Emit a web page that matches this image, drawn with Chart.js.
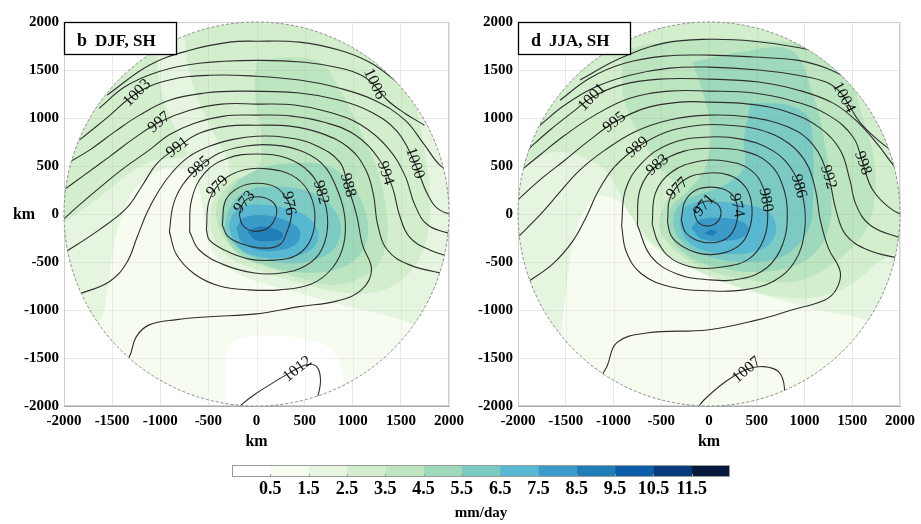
<!DOCTYPE html>
<html>
<head>
<meta charset="utf-8">
<script src="https://cdn.jsdelivr.net/npm/chart.js@4.4.0/dist/chart.umd.min.js"></script>
<style>
  body { margin: 0; background: #fff; }
  #wrap { position: relative; width: 921px; height: 524px; overflow: hidden; }
  canvas { position: absolute; }
</style>
</head>
<body>
<div id="wrap">
  <canvas id="djf" width="470" height="452" style="left:0;top:0"></canvas>
  <canvas id="jja" width="463" height="452" style="left:458px;top:0"></canvas>
  <canvas id="cbar" width="560" height="69" style="left:200px;top:455px"></canvas>
</div>
<script>
Chart.defaults.font.family = '"Liberation Serif", "Times New Roman", serif';
Chart.defaults.color = '#000';

// precipitation shading (mm/day)
const rainTicks = ['0.5', '1.5', '2.5', '3.5', '4.5', '5.5', '6.5', '7.5', '8.5', '9.5', '10.5', '11.5'];
const rainColors = ['#ffffff', '#f7fcf0', '#e6f5e0', '#d3eecd', '#bde5bf', '#9ed9bb', '#7bcbc4',
                    '#58b7d1', '#3a9ac8', '#1f7db8', '#0b5ea7', '#083b7c', '#06193b'];

// ---------------- DJF, SH ----------------
// rain bands, [x km, y km]
const djfRainBase = [[-2200, -2200], [2200, -2200], [2200, 2200], [-2200, 2200]];
const djfRain2 = [[-2260, -1310], [-1895, -1260], [-1635, -1125], [-1550, -810], [-1500, -425], [-1405, -40],
  [-1270, 250], [-1090, 415], [-885, 480], [-695, 425], [-595, 250], [-550, 20], [-520, -220], [-405, -460],
  [-125, -655], [395, -810], [915, -955], [1435, -1080], [1800, -1205], [2215, -1310], [2215, 2225], [-2260, 2225]];
const djfRain0 = [[-300, -2060], [-320, -1725], [-300, -1415], [-230, -1310], [-20, -1270], [290, -1270],
  [605, -1330], [810, -1435], [885, -1620], [915, -1830], [965, -2060]];
const djfRain3a = [[-2260, 2225], [-955, 2225], [-1010, 1915], [-1030, 1600], [-990, 1290], [-905, 1030],
  [-800, 790], [-720, 615], [-855, 580], [-1060, 560], [-1270, 460], [-1475, 300], [-1735, 95], [-2050, -115],
  [-2260, -220]];
const djfRain3b = [[-750, 2225], [-750, 1915], [-720, 1600], [-645, 1290], [-540, 1030], [-435, 820],
  [-280, 480], [-405, 250], [-480, 20], [-460, -220], [-300, -445], [50, -595], [445, -720], [915, -820],
  [1260, -810], [1510, -685], [1695, -460], [1790, -145], [1800, 250], [1745, 665], [1675, 1080], [1590, 1600],
  [1510, 2225]];
const djfRain4 = [[10, 1600], [345, 1635], [675, 1570], [840, 1340], [990, 1060], [1125, 770], [1250, 480],
  [1330, 145], [1360, -220], [1280, -500], [1090, -665], [780, -740], [445, -665], [135, -560], [-125, -460],
  [-300, -300], [-415, -60], [-385, 165], [-220, 355], [10, 460], [50, 770], [0, 1135], [-20, 1395]];
const djfRain5 = [[-375, -85], [-320, 165], [-175, 355], [50, 480], [395, 530], [705, 510], [915, 395],
  [1070, 185], [1155, -85], [1125, -345], [965, -520], [705, -605], [395, -605], [85, -530], [-175, -425],
  [-300, -270]];
const djfRain6 = [[-335, -145], [-280, 60], [-155, 210], [50, 280], [395, 270], [655, 185], [830, 10],
  [875, -200], [780, -385], [510, -500], [200, -500], [-95, -425], [-250, -300]];
const djfRain7 = [[-290, -125], [-230, 20], [-75, 95], [240, 75], [500, -10], [635, -165], [605, -335],
  [425, -435], [135, -460], [-125, -395], [-240, -270]];
const djfRain8 = [[-210, -145], [-135, -40], [50, -10], [290, -60], [445, -165], [425, -300], [260, -375],
  [10, -375], [-155, -290]];
const djfRain9 = [[-95, -185], [10, -135], [155, -145], [270, -200], [260, -260], [135, -280], [-10, -270]];
const djfRain = [[1, djfRainBase], [2, djfRain2], [0, djfRain0], [3, djfRain3a], [3, djfRain3b],
  [4, djfRain4], [5, djfRain5], [6, djfRain6], [7, djfRain7], [8, djfRain8], [9, djfRain9]];

// sea level pressure contours (hPa)
const djfP973 = [[-180, 0], [-125, 135], [10, 180], [155, 135], [210, 40], [175, -85], [85, -165], [-50, -175], [-145, -115]];
const djfP976 = [[-355, -115], [-320, 145], [-175, 280], [10, 320], [200, 280], [310, 165], [365, 20], [320, -175],
  [240, -320], [50, -355], [-155, -310], [-300, -230]];
const djfP979 = [[-520, -165], [-490, 145], [-345, 355], [-125, 460], [115, 470], [365, 405], [530, 250], [605, 20],
  [570, -250], [425, -425], [185, -480], [-75, -470], [-335, -375], [-490, -270]];
const djfP982 = [[-695, -185], [-675, 145], [-540, 425], [-300, 580], [10, 625], [320, 580], [550, 435], [675, 220],
  [740, -85], [675, -375], [510, -540], [260, -615], [-20, -615], [-335, -530], [-595, -375]];
const djfP985 = [[-905, -185], [-865, 95], [-770, 300], [-595, 490], [-385, 635], [-125, 705], [135, 720], [445, 665],
  [675, 530], [820, 300], [915, -10], [905, -320], [790, -560], [570, -730], [240, -790], [-75, -790], [-385, -750],
  [-645, -625], [-830, -425]];
// 988 enters from the west rim, wraps over the low and leaves again through the south-west rim
const djfP988 = [[-1860, -840], [-1530, -705], [-1350, -510], [-1240, -240], [-1135, 20], [-1010, 250], [-875, 435],
  [-705, 595], [-490, 705], [-230, 780], [0, 810], [290, 800], [605, 720], [865, 540], [945, 300], [1040, -10],
  [1100, -320], [1195, -580], [1090, -790], [840, -905], [445, -965], [0, -1040], [-490, -1070], [-830, -1100],
  [-1115, -1155], [-1250, -1280], [-1320, -1485], [-1425, -1620]];
const djfP991 = [[-2030, -425], [-1635, -165], [-1350, 60], [-1185, 300], [-1030, 530], [-820, 695], [-595, 840],
  [-300, 915], [0, 925], [345, 915], [675, 840], [965, 685], [1135, 460], [1215, 200], [1260, -115], [1360, -375],
  [1590, -530], [2005, -635]];
const djfP994 = [[-2070, -115], [-1840, 95], [-1635, 270], [-1375, 480], [-1115, 665], [-915, 820], [-645, 945],
  [-335, 1020], [0, 1030], [365, 1020], [705, 955], [1030, 820], [1280, 560], [1415, 270], [1485, -10],
  [1590, -240], [1800, -375], [2060, -460]];
const djfP997 = [[-2030, 230], [-1790, 405], [-1530, 595], [-1270, 790], [-1010, 955], [-695, 1080], [-365, 1145],
  [0, 1145], [395, 1135], [760, 1060], [1090, 925], [1360, 695], [1540, 405], [1645, 95], [1780, -115], [2060, -220]];
const djfP1000 = [[-2000, 510], [-1735, 665], [-1475, 855], [-1215, 1030], [-905, 1185], [-540, 1260], [-175, 1280],
  [445, 1260], [865, 1185], [1195, 1060], [1465, 855], [1645, 530], [1780, 200], [1905, 40], [2110, -20]];
const djfP1003 = [[-1840, 770], [-1580, 980], [-1240, 1260], [-905, 1395], [-490, 1445], [0, 1435], [445, 1395],
  [865, 1310], [1225, 1185], [1540, 980], [1745, 720], [1905, 510], [2110, 375]];
const djfP1006 = [[-1635, 1100], [-1360, 1330], [-1010, 1485], [-595, 1570], [0, 1600], [500, 1580], [865, 1520],
  [1090, 1445], [1225, 1340], [1360, 1185], [1540, 1050], [1745, 925]];
const djfP1009 = [[-1550, 1240], [-1115, 1550], [-695, 1705], [-280, 1790], [0, 1800], [445, 1790], [865, 1705],
  [1175, 1580], [1435, 1395], [1610, 1240], [1800, 1080]];
const djfP1012 = [[-230, -2060], [-155, -1985], [-20, -1880], [135, -1780], [345, -1655], [520, -1570], [625, -1590],
  [665, -1725], [635, -1905], [570, -2060]];
const djfLoops = [djfP973, djfP976, djfP979, djfP982, djfP985];
const djfArcs = [djfP988, djfP991, djfP994, djfP997, djfP1000, djfP1003, djfP1006, djfP1009, djfP1012];
// [hPa, x km, y km, angle deg]
const djfLabels = [[1003, -1240, 1260, -45], [997, -1010, 955, -40], [991, -820, 695, -38], [985, -595, 490, -42],
  [979, -405, 285, -45], [973, -125, 125, -50], [976, 335, 110, 80], [982, 670, 225, 75], [988, 950, 300, 75],
  [994, 1340, 425, 72], [1000, 1645, 530, 72], [1006, 1225, 1355, 65], [1012, 425, -1615, -38]];

// ---------------- JJA, SH ----------------
const jjaRainBase = [[-2200, -2200], [2200, -2200], [2200, 2200], [-2200, 2200]];
const jjaRain1 = [[-1165, 200], [-955, 145], [-810, -10], [-705, -220], [-500, -395], [-185, -560], [230, -740],
  [675, -875], [1145, -1000], [1560, -1080], [1925, -1205], [2130, -1310], [2130, -2140], [-1610, -2140],
  [-1560, -1415], [-1510, -895], [-1455, -480], [-1375, -115], [-1270, 95]];
const jjaRain3 = [[-2185, 2225], [2185, 2225], [2185, -270], [2030, -375], [1770, -500], [1560, -685], [1250, -840],
  [830, -875], [415, -790], [50, -665], [-310, -500], [-570, -320], [-730, -145], [-855, 40], [-955, 250],
  [-1090, 460], [-1300, 580], [-1560, 645], [-1820, 580], [-2030, 460], [-2185, 405]];
const jjaRain4 = [[-905, 1705], [-520, 1790], [0, 1830], [520, 1810], [1145, 1760], [1500, 1640], [1560, 1185],
  [1685, 770], [1745, 405], [1715, 40], [1610, -220], [1350, -480], [990, -685], [570, -705],
  [155, -635], [-185, -500], [-415, -320], [-520, -115], [-470, 95], [-345, 280], [-520, 480], [-655, 720],
  [-810, 980], [-905, 1290]];
const jjaRain5 = [[-175, 1580], [310, 1685], [865, 1705], [1090, 1240], [1215, 720], [1280, 200], [1250, -165],
  [1090, -425], [830, -560], [470, -605], [105, -560], [-185, -460], [-365, -300], [-435, -115], [-395, 75],
  [-230, 230], [-50, 460], [20, 820], [-40, 1185]];
const jjaRain6 = [[435, 1155], [830, 1135], [1040, 1000], [1090, 665], [1090, 145], [1060, -115], [935, -320],
  [730, -460], [415, -500], [50, -460], [-210, -355], [-355, -185], [-365, -10], [-280, 125], [-105, 200],
  [155, 300], [365, 480], [365, 770]];
const jjaRain7 = [[-310, -85], [-260, 60], [-105, 125], [155, 125], [415, 95], [625, 20], [705, -145], [645, -300],
  [470, -395], [155, -415], [-105, -365], [-250, -250]];
const jjaRain8 = [[-185, -145], [-105, -60], [105, -40], [335, -75], [415, -145], [365, -240], [155, -280], [-75, -260]];
const jjaRain9 = [[-50, -200], [20, -165], [95, -185], [30, -230]];
const jjaRain = [[2, jjaRainBase], [1, jjaRain1], [3, jjaRain3], [4, jjaRain4], [5, jjaRain5], [6, jjaRain6],
  [7, jjaRain7], [8, jjaRain8], [9, jjaRain9]];

const jjaP971 = [[-155, 0], [-115, 95], [-10, 135], [85, 105], [125, 20], [95, -75], [0, -125], [-105, -95]];
const jjaP974 = [[-290, -60], [-250, 135], [-135, 250], [20, 280], [175, 250], [270, 165], [300, 20], [270, -145],
  [175, -260], [20, -300], [-135, -270], [-250, -185]];
const jjaP977 = [[-435, -85], [-405, 175], [-260, 355], [-30, 425], [210, 405], [375, 290], [445, 115], [435, -115],
  [345, -300], [155, -405], [-75, -415], [-280, -335], [-395, -230]];
const jjaP980 = [[-595, -105], [-560, 220], [-395, 435], [-105, 550], [185, 550], [435, 460], [570, 270], [615, 20],
  [570, -270], [415, -470], [155, -550], [-135, -560], [-385, -470], [-530, -300]];
const jjaP983 = [[-750, -115], [-720, 260], [-540, 510], [-260, 655], [50, 685], [365, 655], [625, 530], [770, 300],
  [820, 10], [770, -320], [605, -560], [335, -675], [0, -685], [-335, -625], [-605, -445]];
const jjaP986 = [[-915, -125], [-875, 250], [-705, 530], [-415, 730], [-50, 800], [335, 780], [675, 655], [885, 435],
  [990, 145], [1000, -185], [895, -500], [685, -695], [365, -790], [0, -800], [-395, -760], [-705, -625], [-865, -395]];
// 989 wraps around the low between the west and south-west rim
const jjaP989 = [[-1915, -720], [-1635, -520], [-1425, -280], [-1280, -20], [-1165, 230], [-990, 490], [-750, 695],
  [-445, 855], [-105, 925], [210, 925], [540, 875], [830, 740], [1020, 530], [1115, 250], [1165, -60], [1250, -355],
  [1375, -605], [1330, -790], [1215, -895], [865, -1000], [520, -1100], [0, -1205], [-655, -1240], [-965, -1340],
  [-1070, -1590], [-1165, -1745]];
const jjaP992 = [[-2030, -270], [-1770, -10], [-1560, 230], [-1350, 460], [-1090, 665], [-780, 855], [-415, 980],
  [0, 1030], [415, 1010], [830, 905], [1090, 720], [1250, 385], [1330, 40], [1435, -220], [1665, -375],
  [1975, -460], [2130, -500]];
const jjaP995 = [[-2060, 95], [-1770, 355], [-1510, 560], [-1250, 770], [-990, 955], [-675, 1100], [-310, 1165],
  [0, 1165], [415, 1145], [830, 1060], [1165, 895], [1375, 665], [1475, 355], [1540, 95], [1685, -115],
  [1975, -240], [2130, -270]];
const jjaP998 = [[-2030, 405], [-1770, 615], [-1510, 820], [-1195, 1030], [-830, 1205], [-415, 1280], [0, 1280],
  [470, 1260], [885, 1175], [1250, 1030], [1510, 800], [1610, 530], [1715, 250], [1925, 40], [2130, -40]];
const jjaP1001 = [[-1925, 645], [-1665, 875], [-1405, 1080], [-1225, 1215], [-935, 1340], [-520, 1405], [0, 1405],
  [520, 1375], [935, 1290], [1300, 1155], [1560, 955], [1770, 720], [1975, 460], [2130, 355]];
const jjaP1004 = [[-1770, 925], [-1510, 1135], [-1195, 1320], [-830, 1445], [-415, 1520], [0, 1530], [520, 1500],
  [935, 1445], [1225, 1375], [1375, 1270], [1465, 1135], [1580, 955], [1770, 770], [1975, 615]];
const jjaP1007 = [[-1560, 1185], [-1250, 1415], [-885, 1570], [-470, 1645], [0, 1655], [470, 1635], [935, 1600],
  [1225, 1520], [1475, 1395], [1685, 1240], [1870, 1060]];
const jjaP1010 = [[-1350, 1395], [-935, 1620], [-470, 1780], [0, 1820], [470, 1800], [935, 1735], [1250, 1655],
  [1510, 1530], [1715, 1375]];
const jjaP1007s = [[-135, -2040], [-50, -1935], [175, -1745], [395, -1620], [570, -1590], [730, -1645], [790, -1810],
  [760, -1985], [730, -2090]];
const jjaLoops = [jjaP971, jjaP974, jjaP977, jjaP980, jjaP983, jjaP986];
const jjaArcs = [jjaP989, jjaP992, jjaP995, jjaP998, jjaP1001, jjaP1004, jjaP1007, jjaP1010, jjaP1007s];
const jjaLabels = [[1001, -1225, 1215, -45], [995, -990, 955, -38], [989, -750, 695, -40], [983, -540, 510, -40],
  [977, -330, 265, -45], [971, -50, 90, -50], [974, 290, 90, 78], [980, 595, 145, 80], [986, 940, 290, 75],
  [992, 1250, 385, 72], [998, 1610, 530, 70], [1004, 1410, 1215, 62], [1007, 395, -1625, -40]];

// -------------------------------------------
const px = (pts, close) => (close ? pts.concat([pts[0]]) : pts).map(([x, y]) => ({x, y}));

// clip the shading and isobars to the 2000 km disc, then add rim, labels and titles
const disc = {
  id: 'disc',
  beforeDatasetsDraw(chart) {
    const {ctx, chartArea: a, scales: {x, y}} = chart;
    ctx.save();
    ctx.strokeStyle = '#cfcfcf';
    ctx.lineWidth = 1;
    ctx.strokeRect(a.left + 0.5, a.top + 0.5, a.width - 1, a.height - 1);
    ctx.restore();
    const cx = x.getPixelForValue(0), cy = y.getPixelForValue(0);
    ctx.save();
    ctx.beginPath();
    ctx.ellipse(cx, cy, x.getPixelForValue(2000) - cx, cy - y.getPixelForValue(2000), 0, 0, 2 * Math.PI);
    ctx.clip();
  },
  afterDatasetsDraw(chart, args, opts) {
    const {ctx, chartArea: a, scales: {x, y}} = chart;
    // faint grid on top of the shading
    ctx.strokeStyle = 'rgba(130,130,130,0.13)';
    ctx.lineWidth = 1;
    x.ticks.forEach(t => {
      const p = Math.round(x.getPixelForValue(t.value)) + 0.5;
      ctx.beginPath(); ctx.moveTo(p, a.top); ctx.lineTo(p, a.bottom); ctx.stroke();
    });
    y.ticks.forEach(t => {
      const p = Math.round(y.getPixelForValue(t.value)) + 0.5;
      ctx.beginPath(); ctx.moveTo(a.left, p); ctx.lineTo(a.right, p); ctx.stroke();
    });
    ctx.restore();

    const cx = x.getPixelForValue(0), cy = y.getPixelForValue(0);
    ctx.save();
    ctx.setLineDash([3, 2]);
    ctx.strokeStyle = '#8a8a8a';
    ctx.lineWidth = 1;
    ctx.beginPath();
    ctx.ellipse(cx, cy, x.getPixelForValue(2000) - cx, cy - y.getPixelForValue(2000), 0, 0, 2 * Math.PI);
    ctx.stroke();
    ctx.restore();

    ctx.save();
    ctx.fillStyle = '#111';
    ctx.font = '16px "Liberation Serif", "Times New Roman", serif';
    ctx.textAlign = 'center';
    ctx.textBaseline = 'middle';
    opts.labels.forEach(([v, lx, ly, rot]) => {
      ctx.save();
      ctx.translate(x.getPixelForValue(lx), y.getPixelForValue(ly));
      ctx.rotate(rot * Math.PI / 180);
      ctx.fillText(String(v), 0, 0);
      ctx.restore();
    });
    ctx.restore();
  },
  afterDraw(chart, args, opts) {
    const {ctx, chartArea: a} = chart;
    ctx.save();
    ctx.fillStyle = '#fff';
    ctx.fillRect(a.left, a.top, 113, 33);
    ctx.strokeStyle = '#000';
    ctx.lineWidth = 1.3;
    ctx.strokeRect(a.left + 0.5, a.top + 0.5, 112, 32);
    ctx.fillStyle = '#000';
    ctx.textBaseline = 'alphabetic';
    ctx.font = 'bold 18px "Liberation Serif", "Times New Roman", serif';
    ctx.fillText(opts.letter, a.left + 13, a.top + 24);
    ctx.font = 'bold 17px "Liberation Serif", "Times New Roman", serif';
    ctx.fillText(opts.season, a.left + 31, a.top + 24);
    ctx.font = 'bold 16px "Liberation Serif", "Times New Roman", serif';
    ctx.textAlign = 'center';
    ctx.textBaseline = 'middle';
    ctx.fillText('km', (a.left + a.right) / 2, 442);
    if (opts.yTitle) ctx.fillText('km', 24, (a.top + a.bottom) / 2 + 1);
    ctx.restore();
  }
};

function axis(dir, size) {
  return {
    type: 'linear', min: -2000, max: 2000,
    grid: {color: '#e8e8e8', drawTicks: false},
    border: {color: '#a8a8a8'},
    ticks: {
      stepSize: 500, autoSkip: false, maxRotation: 0, padding: dir === 'x' ? 6 : 5,
      font: {size: 15, weight: 'bold'}, callback: v => String(v)
    },
    afterFit: s => { if (dir === 'x') s.height = size; else s.width = size; }
  };
}

function panel(id, cfg) {
  const sets = [];
  cfg.rain.forEach(([lvl, pts]) => sets.push({
    data: px(pts, true), backgroundColor: rainColors[lvl], borderWidth: 0,
    fill: 'shape', tension: pts.length > 4 ? 0.35 : 0
  }));
  const isobar = (pts, close) => ({
    data: px(pts, close), borderColor: '#2e2e2e', borderWidth: 1.1, fill: false, tension: 0.4
  });
  cfg.loops.forEach(pts => sets.push(isobar(pts, true)));
  cfg.arcs.forEach(pts => sets.push(isobar(pts, false)));
  sets.forEach((s, i) => { s.order = sets.length - i; });

  return new Chart(document.getElementById(id), {
    type: 'line',
    data: {datasets: sets},
    options: {
      responsive: false, animation: false, events: [],
      layout: {padding: {top: 22, right: cfg.padRight, left: 0, bottom: 0}},
      elements: {point: {radius: 0, hitRadius: 0}, line: {capBezierPoints: false}},
      plugins: {
        legend: {display: false}, tooltip: {enabled: false},
        disc: {labels: cfg.labels, letter: cfg.letter, season: cfg.season, yTitle: cfg.yTitle}
      },
      scales: {x: axis('x', 46), y: axis('y', cfg.yWidth)}
    },
    plugins: [disc]
  });
}

panel('djf', {rain: djfRain, loops: djfLoops, arcs: djfArcs, labels: djfLabels,
  letter: 'b', season: 'DJF, SH', yTitle: true, yWidth: 64, padRight: 20});
panel('jja', {rain: jjaRain, loops: jjaLoops, arcs: jjaArcs, labels: jjaLabels,
  letter: 'd', season: 'JJA, SH', yTitle: false, yWidth: 60, padRight: 18});

// colour bar: one stacked horizontal bar, one segment per shading class
const cbarFrame = {
  id: 'cbarFrame',
  afterDatasetsDraw(chart) {
    const {ctx, chartArea: a, scales: {x}} = chart;
    ctx.save();
    ctx.strokeStyle = '#9a9a9a';
    ctx.lineWidth = 1;
    for (let k = 1; k < rainColors.length; k++) {
      const p = Math.round(x.getPixelForValue(k)) + 0.5;
      ctx.beginPath(); ctx.moveTo(p, a.bottom); ctx.lineTo(p, a.bottom - 3); ctx.stroke();
    }
    ctx.strokeRect(a.left + 0.5, a.top + 0.5, a.width - 1, a.height - 1);
    ctx.restore();
  }
};

new Chart(document.getElementById('cbar'), {
  type: 'bar',
  data: {
    labels: [''],
    datasets: rainColors.map(c => ({data: [1], backgroundColor: c, borderWidth: 0, barPercentage: 1, categoryPercentage: 1}))
  },
  options: {
    indexAxis: 'y', responsive: false, animation: false, events: [],
    layout: {padding: {left: 32, right: 30, top: 10, bottom: 0}},
    plugins: {legend: {display: false}, tooltip: {enabled: false}},
    scales: {
      x: {
        stacked: true, min: 0, max: rainColors.length,
        grid: {display: false, drawTicks: false}, border: {display: false},
        ticks: {stepSize: 1, autoSkip: false, maxRotation: 0, padding: 2,
                font: {size: 18, weight: 'bold'}, callback: v => rainTicks[v - 1] || ''},
        title: {display: true, text: 'mm/day', font: {size: 15, weight: 'bold'}, padding: {top: 0, bottom: 2}},
        afterFit: s => { s.height = 47; }
      },
      y: {stacked: true, display: false}
    }
  },
  plugins: [cbarFrame]
});
</script>
</body>
</html>
